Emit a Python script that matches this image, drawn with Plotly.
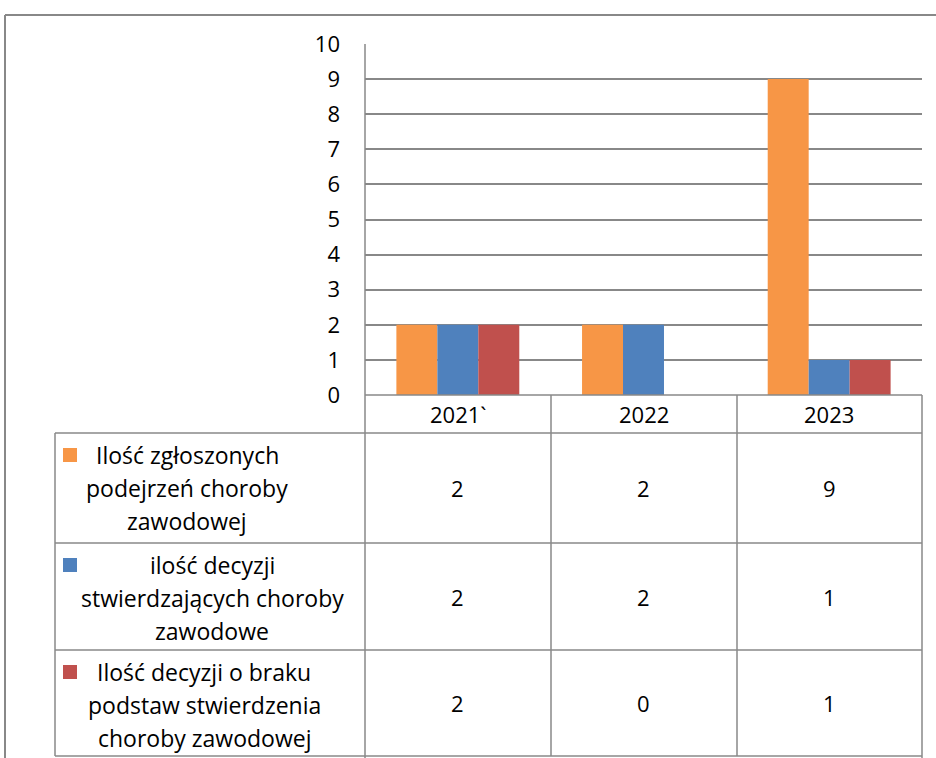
import plotly.graph_objects as go

# --- dane ---
lata = ["2021`", "2022", "2023"]
serie = [
    "Ilość zgłoszonych podejrzeń choroby zawodowej",
    "ilość decyzji stwierdzających choroby zawodowe",
    "Ilość decyzji o braku podstaw stwierdzenia choroby zawodowej",
]
zgloszenia = [2, 2, 9]
decyzje_stwierdzajace = [2, 2, 1]
decyzje_brak_podstaw = [2, 0, 1]
kolory = ["#F79646", "#4F81BD", "#C0504D"]
# etykiety w tabeli danych (zawinięte jak w Excelu)
etykiety_tabeli = [
    ["Ilość zgłoszonych", "podejrzeń choroby", "zawodowej"],
    ["ilość decyzji", "stwierdzających choroby", "zawodowe"],
    ["Ilość decyzji o braku", "podstaw stwierdzenia", "choroby zawodowej"],
]

W, H = 936, 758
FONT = "Open Sans"
SIZE = 23
GRID = "#888888"


def px_x(x):
    return x / W


def px_y(y):
    return 1 - y / H


wartosci = [zgloszenia, decyzje_stwierdzajace, decyzje_brak_podstaw]

fig = go.Figure()
for nazwa, vals, kol in zip(serie, wartosci, kolory):
    fig.add_trace(go.Bar(x=lata, y=vals, name=nazwa, marker_color=kol,
                         marker_line_width=0))

fig.update_layout(
    width=W, height=H,
    margin=dict(l=0, r=0, t=0, b=0, pad=0),
    paper_bgcolor="white", plot_bgcolor="white",
    showlegend=False,
    barmode="group", bargap=0.338, bargroupgap=0,
    font=dict(family=FONT, size=SIZE, color="black"),
    xaxis=dict(type="category", domain=[px_x(365), px_x(922)],
               range=[-0.5, len(lata) - 0.5],
               showticklabels=False, automargin=False,
               showgrid=False, zeroline=False, showline=False),
    yaxis=dict(domain=[px_y(395), px_y(44)], range=[0, 10], dtick=1,
               automargin=False,
               showgrid=True, gridcolor=GRID, gridwidth=1.5,
               zeroline=False, showline=False, ticks="",
               ticklabelstandoff=24, tickfont=dict(size=22)),
)

shapes = []


def linia(x0, y0, x1, y1, w=1.5):
    shapes.append(dict(type="line", xref="paper", yref="paper",
                       x0=px_x(x0), y0=px_y(y0), x1=px_x(x1), y1=px_y(y1),
                       line=dict(color=GRID, width=w)))


# ramka obszaru wykresu
linia(5, 15, 936, 15, 2)
linia(5, 15, 5, 758, 2)
# oś pionowa i tabela danych
linia(365, 44, 365, 758)
linia(922, 395, 922, 758)
linia(365, 395, 922, 395)
linia(55, 433, 922, 433)
linia(55, 543, 922, 543)
linia(55, 650, 922, 650)
linia(55, 756, 922, 756)
linia(55, 433, 55, 756)
for xc in [551, 737]:
    linia(xc, 395, xc, 756)

wiersze = [(433, 543), (543, 650), (650, 756)]
srodki_tekstu = [187, 212, 204]
for (y0, y1), kol, linie, xs in zip(wiersze, kolory, etykiety_tabeli, srodki_tekstu):
    # klucz legendy
    shapes.append(dict(type="rect", xref="paper", yref="paper",
                       x0=px_x(63), x1=px_x(77), y0=px_y(y0 + 15), y1=px_y(y0 + 29),
                       fillcolor=kol, line_width=0))
    for i, t in enumerate(linie):
        fig.add_annotation(x=px_x(xs), y=px_y(y0 + 22 + i * 33), xref="paper",
                           yref="paper", text=t, showarrow=False,
                           xanchor="center", yanchor="middle")

fig.update_layout(shapes=shapes)

# etykiety kategorii (x jako indeks kategorii)
for i, rok in enumerate(lata):
    fig.add_annotation(x=i, y=px_y(414), xref="x", yref="paper", text=rok,
                       showarrow=False, xanchor="center", yanchor="middle",
                       font=dict(size=22))

# wartości w tabeli
for (y0, y1), vals in zip(wiersze, wartosci):
    for i, v in enumerate(vals):
        fig.add_annotation(x=i, y=px_y((y0 + y1) / 2), xref="x", yref="paper",
                           text=str(v), showarrow=False,
                           xanchor="center", yanchor="middle",
                           font=dict(size=22))

fig.write_html("out.html", config={"displayModeBar": False},
               post_script="document.body.style.margin='0';"
                           "document.body.style.overflow='hidden';")
